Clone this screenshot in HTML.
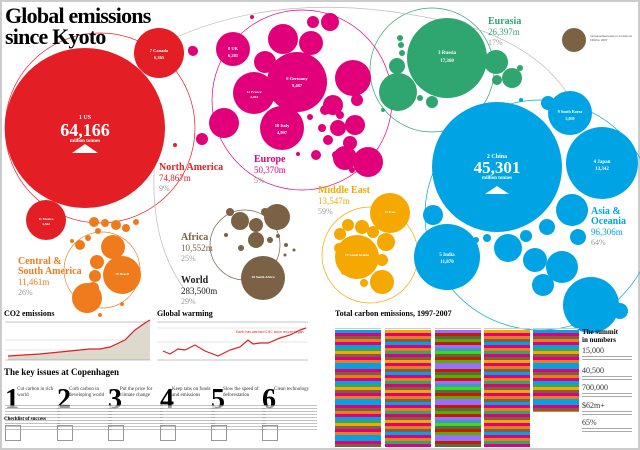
<!DOCTYPE html>
<html><head><meta charset="utf-8"><style>
html,body{margin:0;padding:0;background:#fff;}
body{width:640px;height:450px;overflow:hidden;position:relative;font-family:"Liberation Serif",serif;}
.frame{position:absolute;left:0;top:0;width:636px;height:446px;border:2px solid #ccc;}
.t{position:absolute;white-space:nowrap;}
.col{position:absolute;top:330px;height:117px;width:46px;background:repeating-linear-gradient(180deg,#00a4e4 0 3px,#e2007a 3px 6px,#7b6245 6px 9px,#f07b1d 9px 12px,#e2007a 12px 15px,#00a4e4 15px 18px,#2fa56f 18px 21px,#f5a800 21px 24px,#7b6245 24px 27px,#e2007a 27px 30px,#f07b1d 30px 33px,#00a4e4 33px 36px);}
.col.b{background:repeating-linear-gradient(180deg,#f5a800 0 3px,#e2007a 3px 6px,#f07b1d 6px 9px,#7b6245 9px 12px,#00a4e4 12px 15px,#e2007a 15px 18px,#f07b1d 18px 21px,#2fa56f 21px 24px,#e2007a 24px 27px,#7b6245 27px 30px);}
.hd{position:absolute;top:320px;height:8px;width:46px;border-bottom:1px solid #ccc;}
.small{font-family:"Liberation Sans",sans-serif;font-size:3px;color:#555;}
.num{font-family:"Liberation Serif",serif;font-weight:bold;font-size:28px;position:absolute;top:386px;line-height:28px;}
.kh{position:absolute;top:387px;font-size:5px;color:#333;width:40px;line-height:6px;}
.para{position:absolute;top:405px;width:55px;height:26px;background:repeating-linear-gradient(180deg,#999 0 1px,#fff 1px 3px);opacity:.6;}
.box{position:absolute;top:425px;width:14px;height:14px;border:1px solid #999;}
.sn{position:absolute;left:582px;font-size:8px;line-height:8px;color:#333;}
.sd{position:absolute;left:582px;width:50px;height:6px;background:repeating-linear-gradient(180deg,#aaa 0 1px,#fff 1px 3px);}
</style></head><body>
<div class="frame"></div>
<svg width="640" height="450" style="position:absolute;left:0;top:0" xmlns="http://www.w3.org/2000/svg">
<g fill="none" stroke-width="0.7">
<circle cx="100" cy="128" r="95" stroke="#e31e24"/>
<circle cx="302" cy="100" r="90" stroke="#e2007a"/>
<circle cx="432" cy="70" r="62" stroke="#2fa56f"/>
<circle cx="540" cy="215" r="115" stroke="#00a4e4"/>
<circle cx="370" cy="255" r="48" stroke="#f5a800"/>
<circle cx="245" cy="245" r="35" stroke="#7b6245"/>
<circle cx="102" cy="270" r="38" stroke="#f07b1d"/>
<path d="M170 40 Q300 -20 480 30 Q560 60 580 120" stroke="#bbb"/>
<path d="M160 120 Q140 230 185 290" stroke="#bbb"/>
</g>
<g fill="#e31e24"><circle cx="85" cy="128" r="80"/><circle cx="159" cy="53" r="25"/><circle cx="46" cy="220" r="20"/><circle cx="192" cy="50" r="4"/><circle cx="175" cy="145" r="2"/></g>
<g fill="#e2007a"><circle cx="233" cy="49" r="17"/><circle cx="297" cy="82" r="30"/><circle cx="254" cy="93" r="21"/><circle cx="282" cy="128" r="22"/><circle cx="224" cy="123" r="15"/><circle cx="283" cy="39" r="15"/><circle cx="265" cy="62" r="11"/><circle cx="353" cy="78" r="18"/><circle cx="368" cy="162" r="15"/><circle cx="202" cy="139" r="6"/><circle cx="193" cy="51" r="5"/><circle cx="313" cy="22" r="6"/><circle cx="330" cy="22" r="9"/><circle cx="311" cy="43" r="12"/><circle cx="325" cy="110" r="5"/><circle cx="310" cy="117" r="3"/><circle cx="333" cy="105" r="10"/><circle cx="355" cy="125" r="10"/><circle cx="338" cy="128" r="8"/><circle cx="350" cy="143" r="7"/><circle cx="345" cy="158" r="12"/><circle cx="328" cy="140" r="5"/><circle cx="336" cy="155" r="4"/><circle cx="340" cy="115" r="4"/><circle cx="322" cy="128" r="4"/><circle cx="357" cy="100" r="6"/><circle cx="316" cy="155" r="5"/><circle cx="252" cy="17" r="2"/><circle cx="298" cy="154" r="2"/><circle cx="352" cy="170" r="3"/></g>
<g fill="#2fa56f"><circle cx="447" cy="58" r="40"/><circle cx="398" cy="92" r="19"/><circle cx="496" cy="62" r="12"/><circle cx="512" cy="78" r="10"/><circle cx="497" cy="80" r="5"/><circle cx="397" cy="66" r="8"/><circle cx="432" cy="102" r="6"/><circle cx="420" cy="98" r="3"/><circle cx="402" cy="53" r="3"/><circle cx="401" cy="45" r="3"/><circle cx="400" cy="38" r="3"/><circle cx="383" cy="110" r="2"/><circle cx="520" cy="68" r="3"/></g>
<g fill="#00a4e4"><circle cx="497" cy="167" r="65"/><circle cx="602" cy="163" r="36"/><circle cx="570" cy="113" r="22"/><circle cx="447" cy="257" r="33"/><circle cx="572" cy="210" r="16"/><circle cx="562" cy="267" r="16"/><circle cx="508" cy="248" r="14"/><circle cx="535" cy="260" r="12"/><circle cx="591" cy="305" r="28"/><circle cx="433" cy="215" r="10"/><circle cx="547" cy="227" r="8"/><circle cx="548" cy="103" r="7"/><circle cx="526" cy="236" r="6"/><circle cx="578" cy="237" r="8"/><circle cx="543" cy="285" r="11"/><circle cx="487" cy="238" r="4"/><circle cx="476" cy="240" r="3"/><circle cx="620" cy="311" r="8"/><circle cx="521" cy="100" r="2"/><circle cx="472" cy="212" r="2"/></g>
<g fill="#f5a800"><circle cx="390" cy="213" r="20"/><circle cx="357" cy="257" r="22"/><circle cx="382" cy="282" r="12"/><circle cx="386" cy="242" r="9"/><circle cx="362" cy="227" r="7"/><circle cx="348" cy="225" r="6"/><circle cx="340" cy="234" r="6"/><circle cx="339" cy="248" r="5"/><circle cx="382" cy="260" r="6"/><circle cx="364" cy="283" r="4"/><circle cx="373" cy="232" r="6"/><circle cx="344" cy="272" r="3"/></g>
<g fill="#7b6245"><circle cx="263" cy="278" r="22"/><circle cx="277" cy="217" r="13"/><circle cx="240" cy="221" r="9"/><circle cx="256" cy="225" r="7"/><circle cx="256" cy="240" r="8"/><circle cx="230" cy="212" r="4"/><circle cx="265" cy="212" r="4"/><circle cx="241" cy="248" r="3"/><circle cx="270" cy="240" r="3"/><circle cx="278" cy="236" r="2"/><circle cx="286" cy="245" r="2"/><circle cx="226" cy="235" r="2"/><circle cx="294" cy="250" r="1.5"/><circle cx="285" cy="255" r="1.5"/><circle cx="574" cy="40" r="12"/></g>
<g fill="#f07b1d"><circle cx="122" cy="275" r="19"/><circle cx="113" cy="247" r="12"/><circle cx="87" cy="298" r="15"/><circle cx="97" cy="262" r="7"/><circle cx="95" cy="276" r="6"/><circle cx="93" cy="288" r="6"/><circle cx="80" cy="245" r="5"/><circle cx="88" cy="238" r="3"/><circle cx="94" cy="222" r="5"/><circle cx="105" cy="223" r="4"/><circle cx="116" cy="225" r="5"/><circle cx="126" cy="228" r="4"/><circle cx="98" cy="231" r="3"/><circle cx="136" cy="222" r="3"/><circle cx="72" cy="241" r="2"/><circle cx="100" cy="315" r="2"/><circle cx="122" cy="304" r="2"/></g>
<g fill="#fff" font-family="Liberation Serif,serif" text-anchor="middle" font-weight="bold">
<text x="85" y="119" font-size="6">1 US</text><text x="85" y="136" font-size="18">64,166</text><text x="85" y="142" font-size="5">million tonnes</text>
<polygon points="72,153 85,144 98,153"/>
<text x="159" y="52" font-size="4.5">7 Canada</text><text x="159" y="59" font-size="4.5">6,365</text>
<text x="46" y="220" font-size="3.5">11 Mexico</text><text x="46" y="225" font-size="3.5">4,502</text>
<text x="233" y="50" font-size="4.5">8 UK</text><text x="233" y="57" font-size="4.5">6,281</text>
<text x="297" y="80" font-size="4.5">6 Germany</text><text x="297" y="87" font-size="4.5">9,487</text>
<text x="254" y="93" font-size="3.5">12 France</text><text x="254" y="98" font-size="3.5">4,464</text>
<text x="282" y="127" font-size="4.5">10 Italy</text><text x="282" y="134" font-size="4.5">4,997</text>
<text x="447" y="54" font-size="5">3 Russia</text><text x="447" y="62" font-size="5">17,360</text>
<text x="497" y="158" font-size="6">2 China</text><text x="497" y="173" font-size="17">45,301</text><text x="497" y="179" font-size="5">million tonnes</text>
<polygon points="485,194 497,186 509,194"/>
<text x="602" y="163" font-size="5">4 Japan</text><text x="602" y="170" font-size="5">13,342</text>
<text x="570" y="113" font-size="4">9 South Korea</text><text x="570" y="120" font-size="4">5,059</text>
<text x="447" y="256" font-size="5">5 India</text><text x="447" y="263" font-size="5">11,870</text>
<text x="357" y="256" font-size="3.5">15 Saudi Arabia</text><text x="390" y="213" font-size="3.5">13 Iran</text>
<text x="263" y="278" font-size="3.5">18 South Africa</text><text x="122" y="275" font-size="3.5">16 Brazil</text>
</g>
<g font-family="Liberation Sans,sans-serif">
<line x1="5" y1="322" x2="150" y2="322" stroke="#888" stroke-width="0.5"/>
<line x1="5" y1="350" x2="150" y2="350" stroke="#bbb" stroke-width="0.4"/>
<line x1="5" y1="340" x2="150" y2="340" stroke="#bbb" stroke-width="0.4"/>
<path d="M8 356 L40 354 L70 351 L90 349 L100 349 L110 347 L125 340 L135 330 L145 323 L150 320 L150 360 L8 360 Z" fill="#ddd9cc"/>
<path d="M8 356 L40 354 L70 351 L90 349 L100 349 L110 347 L125 340 L135 330 L145 323 L150 320" fill="none" stroke="#e31e24" stroke-width="1.2"/>
<line x1="5" y1="360" x2="150" y2="360" stroke="#888" stroke-width="0.5"/>
<line x1="157" y1="322" x2="308" y2="322" stroke="#888" stroke-width="0.5"/>
<line x1="157" y1="328" x2="308" y2="328" stroke="#bbb" stroke-width="0.4"/>
<line x1="157" y1="342" x2="308" y2="342" stroke="#bbb" stroke-width="0.4"/>
<line x1="157" y1="360" x2="308" y2="360" stroke="#888" stroke-width="0.5"/>
<path d="M163 351 L170 354 L178 349 L185 350 L195 345 L205 351 L218 356 L230 350 L240 347 L248 340 L253 344 L260 343 L268 343 L280 338 L290 335 L300 330 L306 328" fill="none" stroke="#e31e24" stroke-width="1.2"/>
<text x="236" y="333" font-size="3.5" fill="#e31e24">Earth has warmed 0.8C since record began</text>
</g>
</svg>
<div class="t" style="left:5px;top:5px;font-size:22px;font-weight:bold;line-height:21px;letter-spacing:-0.8px;">Global emissions<br>since Kyoto</div>
<div class="t" style="left:159px;top:163px;font-size:10px;font-weight:bold;color:#e31e24;line-height:10px">North America<br><span style="font-size:9px;font-weight:normal">74,867m</span><br><span style="font-size:8px;color:#999;font-weight:normal">9%</span></div>
<div class="t" style="left:254px;top:155px;font-size:10px;font-weight:bold;color:#e2007a;line-height:10px">Europe<br><span style="font-size:9px;font-weight:normal">50,370m</span><br><span style="font-size:8px;color:#999;font-weight:normal">5%</span></div>
<div class="t" style="left:488px;top:17px;font-size:10px;font-weight:bold;color:#2fa56f;line-height:10px">Eurasia<br><span style="font-size:9px;font-weight:normal">26,397m</span><br><span style="font-size:8px;color:#999;font-weight:normal">17%</span></div>
<div class="t" style="left:318px;top:186px;font-size:10px;font-weight:bold;color:#f5a800;line-height:10px">Middle East<br><span style="font-size:9px;font-weight:normal">13,547m</span><br><span style="font-size:8px;color:#999;font-weight:normal">59%</span></div>
<div class="t" style="left:591px;top:207px;font-size:10px;font-weight:bold;color:#00a4e4;line-height:10px">Asia &amp;<br>Oceania<br><span style="font-size:9px;font-weight:normal">96,306m</span><br><span style="font-size:8px;color:#999;font-weight:normal">64%</span></div>
<div class="t" style="left:181px;top:233px;font-size:10px;font-weight:bold;color:#7b6245;line-height:10px">Africa<br><span style="font-size:9px;font-weight:normal">10,552m</span><br><span style="font-size:8px;color:#999;font-weight:normal">25%</span></div>
<div class="t" style="left:181px;top:276px;font-size:10px;font-weight:bold;color:#222;line-height:10px">World<br><span style="font-size:9px;font-weight:normal">283,500m</span><br><span style="font-size:8px;color:#999;font-weight:normal">29%</span></div>
<div class="t" style="left:18px;top:257px;font-size:10px;font-weight:bold;color:#f07b1d;line-height:10px">Central &amp;<br>South America<br><span style="font-size:9px;font-weight:normal">11,461m</span><br><span style="font-size:8px;color:#999;font-weight:normal">26%</span></div>
<div class="t small" style="left:590px;top:34px;width:45px;white-space:normal;">Increase/decrease in emissions 1990 to 2007</div>
<div class="t" style="left:4px;top:309px;font-size:8px;font-weight:bold;">CO2 emissions</div>
<div class="t" style="left:157px;top:309px;font-size:8px;font-weight:bold;">Global warming</div>
<div class="t" style="left:335px;top:309px;font-size:8px;font-weight:bold;">Total carbon emissions, 1997-2007</div>
<div class="t" style="left:4px;top:367px;font-size:9px;font-weight:bold;">The key issues at Copenhagen</div>
<div class="num" style="left:5px">1</div><div class="num" style="left:57px">2</div><div class="num" style="left:108px">3</div><div class="num" style="left:160px">4</div><div class="num" style="left:211px">5</div><div class="num" style="left:262px">6</div>
<div class="kh" style="left:17px">Cut carbon in rich world</div><div class="kh" style="left:69px">Curb carbon in developing world</div><div class="kh" style="left:120px">Put the price for climate change</div><div class="kh" style="left:172px">Keep tabs on funds and emissions</div><div class="kh" style="left:223px">Slow the speed of deforestation</div><div class="kh" style="left:274px">Clean technology</div>
<div class="para" style="left:5px"></div><div class="para" style="left:57px"></div><div class="para" style="left:108px"></div><div class="para" style="left:160px"></div><div class="para" style="left:211px"></div><div class="para" style="left:262px"></div>
<div class="t" style="left:4px;top:417px;font-size:5px;font-weight:bold;">Checklist of success</div>
<div class="box" style="left:5px"></div><div class="box" style="left:57px"></div><div class="box" style="left:108px"></div><div class="box" style="left:160px"></div><div class="box" style="left:211px"></div><div class="box" style="left:262px"></div>
<div class="hd" style="left:335px"></div><div class="hd" style="left:385px"></div><div class="hd" style="left:435px"></div><div class="hd" style="left:484px"></div><div class="hd" style="left:533px"></div>
<div class="col" style="left:335px"></div><div class="col b" style="left:385px"></div><div class="col" style="left:435px;filter:hue-rotate(60deg)"></div><div class="col b" style="left:484px"></div><div class="col" style="left:533px;height:82px"></div>
<div class="t" style="left:582px;top:328px;font-size:7px;font-weight:bold;line-height:8px">The summit<br>in numbers</div>
<div class="sn" style="top:347px">15,000</div><div class="sd" style="top:356px"></div>
<div class="sn" style="top:367px">40,500</div><div class="sd" style="top:376px"></div>
<div class="sn" style="top:384px">700,000</div><div class="sd" style="top:393px"></div>
<div class="sn" style="top:402px">$62m+</div><div class="sd" style="top:411px"></div>
<div class="sn" style="top:419px">65%</div><div class="sd" style="top:428px"></div>
</body></html>
